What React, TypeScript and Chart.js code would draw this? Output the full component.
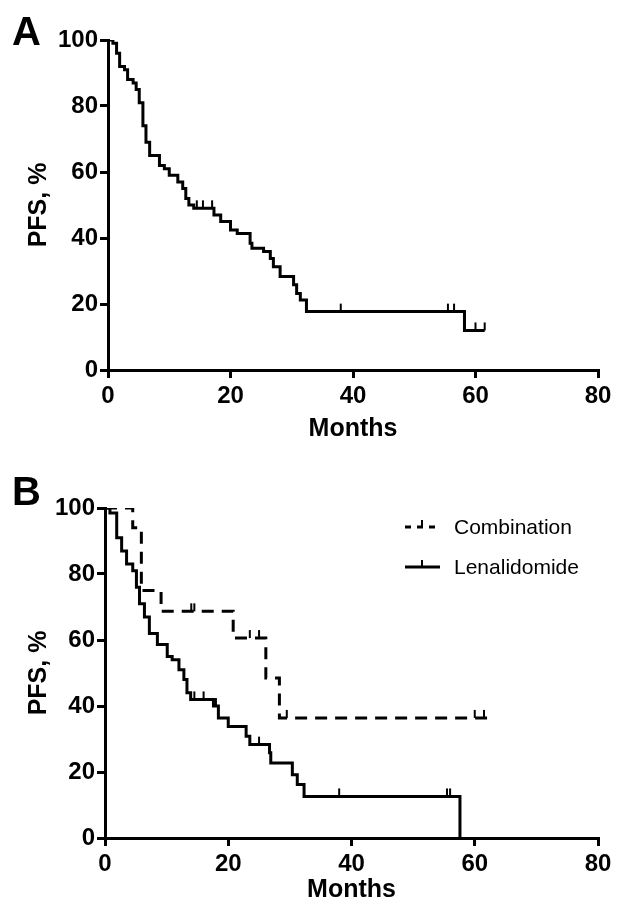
import { useEffect, useRef } from 'react';
import Chart from 'chart.js/auto';

// Panel A: all patients (month, PFS %)
const aMonths = [0, 0.8, 1.4, 1.9, 2.7, 3.2, 4.1, 4.6, 5.1, 5.7, 6.2, 6.8, 8.4, 9.2, 10, 11.4, 12.2, 12.7, 13.2, 14, 17.3, 18.4, 20, 21.1, 23.2, 23.5, 25.4, 26.5, 27, 28.1, 30.3, 30.8, 31.4, 32.4, 58.2, 61.5];
const aPfs = [100, 99, 96, 92, 91, 88, 87, 85, 81, 74, 69, 65, 62, 61, 59, 57, 55, 52, 50, 49, 47, 45, 42.4, 41.4, 38.4, 36.9, 35.9, 33.8, 31.3, 28.3, 25.8, 23.2, 21.2, 17.7, 12, 12];
const aCensorMonths = [14.5, 15.5, 17, 38, 55.5, 56.5, 60, 61.5];
const aCensorPfs = [49, 49, 49, 17.7, 17.7, 17.7, 12, 12];

// Panel B: combination
const cMonths = [0, 4.5, 5.9, 9.1, 20.8, 26.1, 28.3, 62];
const cPfs = [100, 94, 75, 68.7, 60.6, 48.5, 36.4, 36.4];
const cCensorMonths = [14, 14.5, 23.5, 25, 29.5, 60, 61.5];
const cCensorPfs = [68.7, 68.7, 60.6, 60.6, 36.4, 36.4, 36.4];

// Panel B: lenalidomide
const lMonths = [0, 0.8, 1.9, 2.7, 3.5, 4.5, 5.1, 5.6, 6.4, 7.2, 8.5, 10.1, 10.9, 12, 12.8, 13.3, 13.9, 17.6, 18.4, 20, 22.9, 23.5, 26.7, 26.9, 30.4, 31.2, 32.3, 57.6];
const lPfs = [100, 98.5, 91, 87, 83, 81, 76, 71, 67, 62, 58.6, 55, 54, 51, 48, 44, 42, 40, 36.4, 33.8, 30.8, 28.3, 25.8, 22.7, 19.2, 16.2, 12.6, 0];
const lCensorMonths = [14.5, 16, 18, 25, 38, 55.5, 56];
const lCensorPfs = [42, 42, 40, 28.3, 12.6, 12.6, 12.6];

const xTicks = [0, 20, 40, 60, 80];
const yTicks = [0, 20, 40, 60, 80, 100];

const FONT = '"Liberation Sans", Arial, sans-serif';
const NARROW = '"Liberation Sans Narrow", "Liberation Sans", Arial, sans-serif';

const pts = (xs: number[], ys: number[]) => xs.map((x, i) => ({ x, y: ys[i] }));

const stepSet = (xs: number[], ys: number[], dash: number[] = []) => ({
  type: 'line' as const,
  data: pts(xs, ys),
  stepped: true,
  borderColor: '#000',
  borderWidth: 3,
  borderDash: dash,
  pointRadius: 0,
  fill: false,
});

const censorSet = (xs: number[], ys: number[]) => ({
  type: 'scatter' as const,
  data: pts(xs, ys.map((y) => y + 1.2)),
  pointStyle: 'line',
  rotation: 90,
  pointRadius: 4,
  borderColor: '#000',
  borderWidth: 2,
});

function makeOptions(pad: any, yWidth: number, xHeight: number) {
  const tickFont = { family: NARROW, size: 24, weight: 'bold' as const };
  const titleFont = { family: FONT, size: 25, weight: 'bold' as const };
  return {
    animation: false as const,
    responsive: false,
    layout: { padding: pad },
    plugins: { legend: { display: false }, tooltip: { enabled: false } },
    scales: {
      x: {
        type: 'linear' as const,
        min: 0,
        max: 80,
        afterBuildTicks: (s: any) => { s.ticks = xTicks.map((v) => ({ value: v })); },
        afterFit: (s: any) => { s.height = xHeight; },
        ticks: { color: '#000', font: tickFont, padding: 4, maxRotation: 0 },
        grid: { drawOnChartArea: false, color: '#000', lineWidth: 3, tickLength: 8 },
        border: { color: '#000', width: 3 },
        title: { display: true, text: 'Months', color: '#000', font: titleFont, padding: 0 },
      },
      y: {
        type: 'linear' as const,
        min: 0,
        max: 100,
        afterBuildTicks: (s: any) => { s.ticks = yTicks.map((v) => ({ value: v })); },
        afterFit: (s: any) => { s.width = yWidth; },
        ticks: { color: '#000', font: tickFont, padding: 2 },
        grid: { drawOnChartArea: false, color: '#000', lineWidth: 3, tickLength: 8 },
        border: { color: '#000', width: 3 },
        title: { display: true, text: 'PFS, %', color: '#000', font: titleFont, padding: 0 },
      },
    },
  };
}

const letterPlugin = (letter: string) => ({
  id: 'letter' + letter,
  afterDraw(chart: any) {
    const ctx = chart.ctx;
    ctx.save();
    ctx.fillStyle = '#000';
    ctx.font = `bold 40px ${FONT}`;
    ctx.textBaseline = 'top';
    ctx.fillText(letter, 12, 14);
    ctx.restore();
  },
});

const legendPlugin = {
  id: 'kmLegend',
  afterDraw(chart: any) {
    const ctx = chart.ctx;
    ctx.save();
    ctx.strokeStyle = '#000';
    ctx.fillStyle = '#000';
    ctx.lineWidth = 3;
    ctx.font = `21px ${FONT}`;
    ctx.textBaseline = 'middle';
    const rows: [string, number[], number][] = [
      ['Combination', [6, 6], 67],
      ['Lenalidomide', [], 107],
    ];
    rows.forEach(([label, dash, y]) => {
      ctx.setLineDash(dash);
      ctx.beginPath();
      ctx.moveTo(405, y);
      ctx.lineTo(440, y);
      ctx.stroke();
      ctx.setLineDash([]);
      ctx.lineWidth = 2;
      ctx.beginPath();
      ctx.moveTo(422, y);
      ctx.lineTo(422, y - 7);
      ctx.stroke();
      ctx.lineWidth = 3;
      ctx.fillText(label, 454, y + 1);
    });
    ctx.restore();
  },
};

export default function App() {
  const refA = useRef<HTMLCanvasElement>(null);
  const refB = useRef<HTMLCanvasElement>(null);

  useEffect(() => {
    const a = new Chart(refA.current!, {
      type: 'line',
      data: { datasets: [stepSet(aMonths, aPfs), censorSet(aCensorMonths, aCensorPfs)] as any },
      options: makeOptions({ left: 24, right: 32, top: 40, bottom: 6 }, 84, 74) as any,
      plugins: [letterPlugin('A')],
    });
    const b = new Chart(refB.current!, {
      type: 'line',
      data: {
        datasets: [
          stepSet(cMonths, cPfs, [12, 8]),
          censorSet(cCensorMonths, cCensorPfs),
          stepSet(lMonths, lPfs),
          censorSet(lCensorMonths, lCensorPfs),
        ] as any,
      },
      options: makeOptions({ left: 24, right: 32, top: 48, bottom: 4 }, 81, 67) as any,
      plugins: [letterPlugin('B'), legendPlugin],
    });
    return () => {
      a.destroy();
      b.destroy();
    };
  }, []);

  return (
    <div style={{ position: 'absolute', left: 0, top: 0, width: 630, height: 909, background: '#fff' }}>
      <canvas ref={refA} width={630} height={450} style={{ position: 'absolute', left: 0, top: 0 }} />
      <canvas ref={refB} width={630} height={449} style={{ position: 'absolute', left: 0, top: 460 }} />
    </div>
  );
}
